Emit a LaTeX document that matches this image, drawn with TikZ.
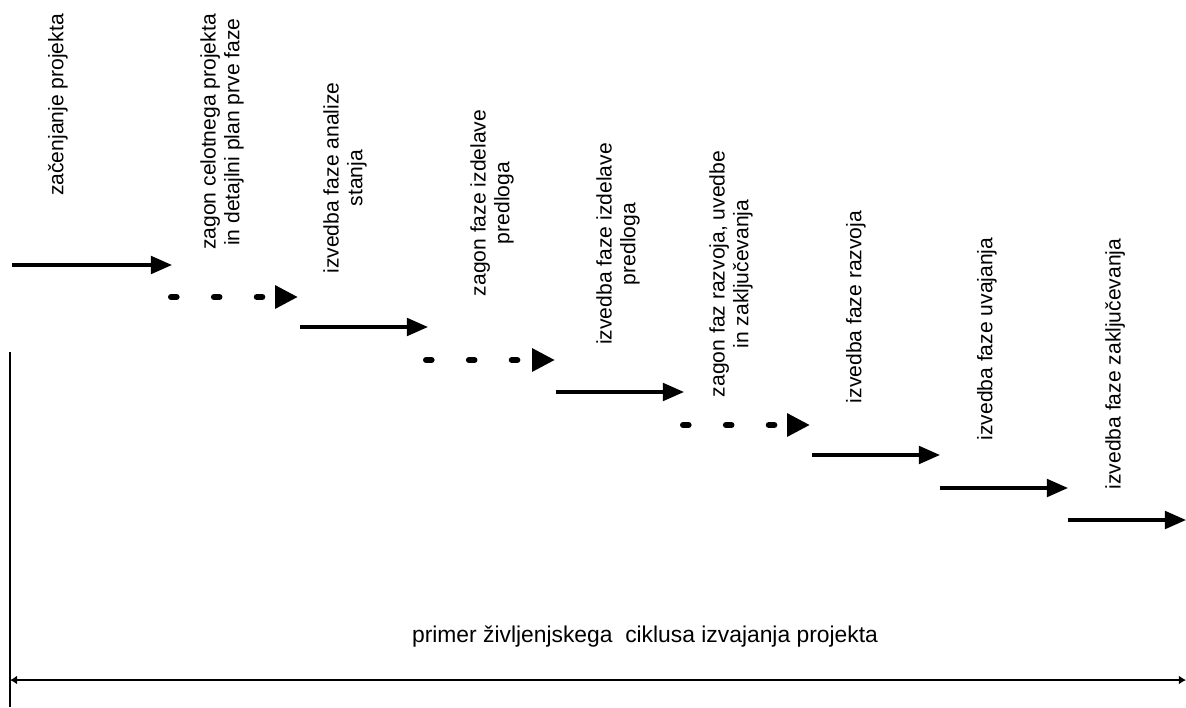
\documentclass[tikz,border=0pt]{standalone}
\usepackage{fontspec}
\setmainfont{Liberation Sans}
\usetikzlibrary{arrows.meta}

\begin{document}
\begin{tikzpicture}[
    x=0.02cm, y=-0.02cm,
    phase/.style={black, line width=1.9pt, -{Triangle[length=12pt, width=10pt]}},
    launch/.style={black, line width=3.4pt, line cap=round,
                   dash pattern=on 3.2pt off 21.2pt,
                   -{Triangle[length=13pt, width=12.5pt]}},
    spanline/.style={black, line width=1.1pt,
                     {Latex[length=4pt, width=5pt]}-{Latex[length=4pt, width=5pt]}},
    frame/.style={black, line width=1.1pt},
    lbl/.style={font=\fontsize{12}{13.6}\selectfont, align=center,
                rotate=90, inner sep=0pt}
]
\useasboundingbox (0,0) rectangle (1186,707);

% =========================================================
% STAIRCASE: one arrow per phase (solid = run, dots = start)
% =========================================================
\foreach \i/\xa/\xb/\y/\sty in {1/12/172/265/phase, 2/171/298/297/launch,
    3/300/428/327/phase, 4/426/555/360/launch, 5/556/684/392/phase,
    6/683/810/425/launch, 7/812/940/455/phase, 8/940/1068/488/phase,
    9/1068/1186/520/phase}
{
  \coordinate (a\i) at (\xa,\y);
  \coordinate (b\i) at (\xb,\y);
  \draw[\sty] (a\i) -- (b\i);
}

% phase labels, read bottom to top
\node[lbl] (p1) at (58,105)   {začenjanje projekta};
\node[lbl] (p2) at (222,132)  {zagon celotnega projekta\\in detajlni plan prve faze};
\node[lbl] (p3) at (345,178)  {izvedba faze analize\\stanja};
\node[lbl] (p4) at (492,203)  {zagon faze izdelave\\predloga};
\node[lbl] (p5) at (618,244)  {izvedba faze izdelave\\predloga};
\node[lbl] (p6) at (731,274)  {zagon faz razvoja, uvedbe\\in zaključevanja};
\node[lbl] (p7) at (856,307)  {izvedba faze razvoja};
\node[lbl] (p8) at (987,339)  {izvedba faze uvajanja};
\node[lbl] (p9) at (1115,364) {izvedba faze zaključevanja};

% =========================================================
% WHOLE CYCLE: left edge and span arrow
% =========================================================
\coordinate (edgetop) at (10,352);
\coordinate (edgebot) at (10,707);
\draw[frame] (edgetop) -- (edgebot);

\coordinate (spanl) at (10,680);
\coordinate (spanr) at (1186,680);
\draw[spanline] (spanl) -- (spanr);

\node[font=\fontsize{13}{15}\selectfont, inner sep=0pt] (cycle) at (645,637)
      {primer življenjskega~ ciklusa izvajanja projekta};

\end{tikzpicture}
\end{document}
